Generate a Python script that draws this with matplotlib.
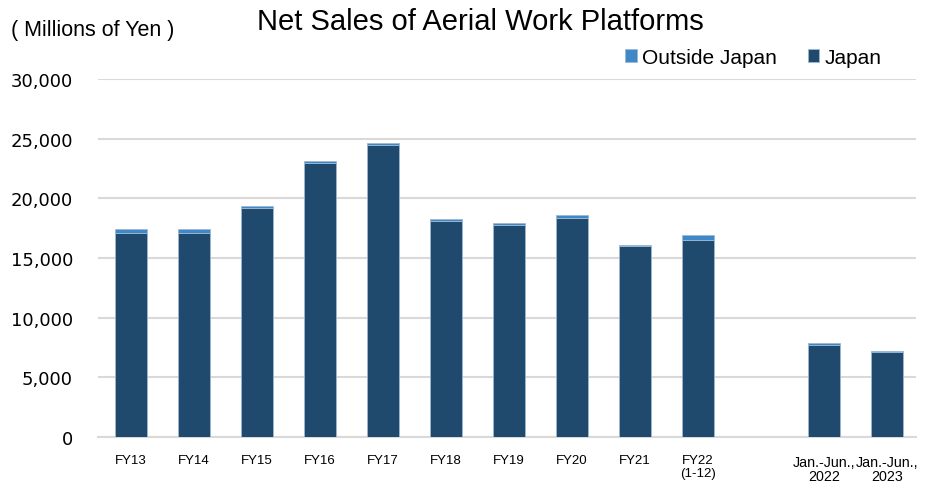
import matplotlib.pyplot as plt
import numpy as np

plt.rcParams['font.family'] = ['Liberation Sans', 'DejaVu Sans']

# data (millions of yen)
labels = ["FY13", "FY14", "FY15", "FY16", "FY17", "FY18", "FY19", "FY20", "FY21",
          "FY22\n(1-12)", "Jan.-Jun.,\n2022", "Jan.-Jun.,\n2023"]
japan = [17100, 17100, 19200, 22970, 24480, 18100, 17770, 18360, 15980, 16540, 7690, 7100]
outside = [330, 330, 170, 160, 160, 170, 170, 270, 110, 390, 190, 80]

# leave one empty slot between the fiscal years and the half-year figures
pos = np.array(list(range(10)) + [11, 12])

c_japan = '#1F4A6D'
c_outside = '#3F88C8'
grid_c = '#D9D9D9'

fig = plt.figure(figsize=(9.33, 4.85), dpi=100)
ax = fig.add_axes([0.105, 0.097, 0.877, 0.738])

ax.bar(pos, japan, width=0.5, color=c_japan, edgecolor='#9DB8D0', linewidth=0.6,
       label='Japan', zorder=3)
ax.bar(pos, outside, width=0.5, bottom=japan, color=c_outside, edgecolor='#9DB8D0',
       linewidth=0.6, label='Outside Japan', zorder=3)

ax.set_ylim(0, 30000)
ax.set_xlim(-0.52, 12.46)
ax.set_yticks(np.arange(0, 30001, 5000))
ax.set_yticklabels(["{:,}".format(v) for v in range(0, 30001, 5000)],
                   fontsize=13, family='DejaVu Sans')
ax.set_xticks(pos)
ax.set_xticklabels(labels, fontsize=9.5, linespacing=1.2)
ax.tick_params(axis='both', length=0)
ax.tick_params(axis='x', pad=12)
ax.tick_params(axis='y', pad=18)
ax.grid(axis='y', color=grid_c, linewidth=1.5, zorder=0)
for s in ['top', 'right', 'left']:
    ax.spines[s].set_visible(False)
ax.spines['bottom'].set_color(grid_c)
ax.spines['bottom'].set_linewidth(1.5)

for lab in ax.get_xticklabels()[10:]:
    lab.set_fontsize(10.3)
    lab.set_linespacing(1.0)
    lab.set_y(-0.003)

fig.text(0.275, 0.955, "Net Sales of Aerial Work Platforms", fontsize=21, va='center')
fig.text(0.012, 0.937, "( Millions of Yen )", fontsize=15.5, va='center')

handles, leg_labels = ax.get_legend_handles_labels()
fig.legend(handles[::-1], leg_labels[::-1], loc='center right', bbox_to_anchor=(0.965, 0.88),
           ncol=2, frameon=False, fontsize=15, handlelength=0.55, handleheight=0.55,
           handletextpad=0.25, columnspacing=1.5)

fig.savefig('out.png', dpi=100)
